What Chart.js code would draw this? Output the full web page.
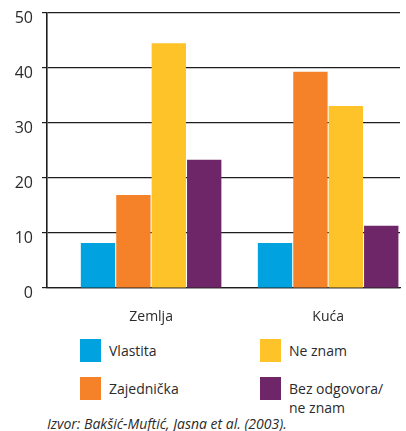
<!DOCTYPE html>
<html>
<head>
<meta charset="utf-8">
<script src="https://cdn.jsdelivr.net/npm/chart.js@4"></script>
<style>
  body { margin: 0; background: #fff; font-family: "Open Sans", sans-serif; color: #2b2b2b; }
  #wrap { position: relative; width: 406px; height: 431px; }
  #box { position: absolute; left: 0; top: 0; width: 406px; height: 330px; }
  #legend {
    position: absolute; left: 80px; top: 339px;
    display: grid; grid-template-columns: 180px auto; grid-template-rows: 38px 38px;
    grid-auto-flow: column; font-size: 14px;
  }
  .item { display: flex; align-items: flex-start; }
  .sw { width: 21px; height: 23px; flex: none; }
  .txt { margin-left: 8px; line-height: 19px; white-space: pre-line; margin-top: 2px; }
  #source { position: absolute; left: 47px; top: 414px; font-size: 14px; font-style: italic; }
</style>
</head>
<body>
<div id="wrap">
  <div id="box"><canvas id="chart"></canvas></div>
  <div id="legend"></div>
  <div id="source">Izvor: Bakšić-Muftić, Jasna et al. (2003).</div>
</div>
<script>
const categories = ['Zemlja', 'Kuća'];
const seriesNames = ['Vlastita', 'Zajednička', 'Ne znam', 'Bez odgovora/\nne znam'];
const vlastita = [8.2, 8.2];
const zajednicka = [16.9, 39.3];
const neZnam = [44.5, 33.1];
const bezOdgovora = [23.3, 11.3];

const colors = ['#00a3e0', '#f58229', '#fec328', '#6f2668'];
const values = [vlastita, zajednicka, neZnam, bezOdgovora];

document.addEventListener('DOMContentLoaded', () => {
    const ctx = document.getElementById('chart');
    const gridColor = '#1e1e1e';

    new Chart(ctx, {
        type: 'bar',
        data: {
            labels: categories.map((c, i) => i),
            datasets: seriesNames.map((name, i) => ({
                label: name,
                data: values[i],
                backgroundColor: colors[i],
                categoryPercentage: 0.8,
                barPercentage: 0.97
            }))
        },
        options: {
            responsive: true,
            maintainAspectRatio: false,
            animation: false,
            layout: { padding: { top: 13, right: 6, left: 0, bottom: 0 } },
            scales: {
                x: {
                    type: 'linear',
                    offset: false,
                    min: -0.588,
                    max: 1.406,
                    afterFit: s => { s.height = 42; },
                    grid: { display: false, offset: false },
                    border: { display: true, color: gridColor, width: 1.2 },
                    ticks: {
                        stepSize: 1,
                        includeBounds: false,
                        autoSkip: false,
                        maxRotation: 0,
                        padding: 13,
                        color: '#2b2b2b',
                        font: { family: 'Open Sans', size: 14 },
                        callback: v => categories[v] !== undefined ? categories[v] : ''
                    }
                },
                y: {
                    min: 0,
                    max: 50,
                    afterFit: s => { s.width = 47; s.paddingTop = 0; s.paddingBottom = 0; },
                    grid: { display: true, drawOnChartArea: true, color: gridColor, lineWidth: 1.2, tickLength: 5, tickColor: gridColor },
                    border: { color: gridColor, width: 1.6 },
                    ticks: {
                        stepSize: 10,
                        padding: 9,
                        labelOffset: 5,
                        color: '#2b2b2b',
                        font: { family: 'Open Sans', size: 16 }
                    }
                }
            },
            plugins: {
                legend: { display: false },
                tooltip: { enabled: false }
            }
        }
    });

    const legend = document.getElementById('legend');
    seriesNames.forEach((name, i) => {
        const item = document.createElement('div');
        item.className = 'item';
        const sw = document.createElement('span');
        sw.className = 'sw';
        sw.style.background = colors[i];
        const txt = document.createElement('span');
        txt.className = 'txt';
        txt.textContent = name;
        item.appendChild(sw);
        item.appendChild(txt);
        legend.appendChild(item);
    });
});
</script>
</body>
</html>
